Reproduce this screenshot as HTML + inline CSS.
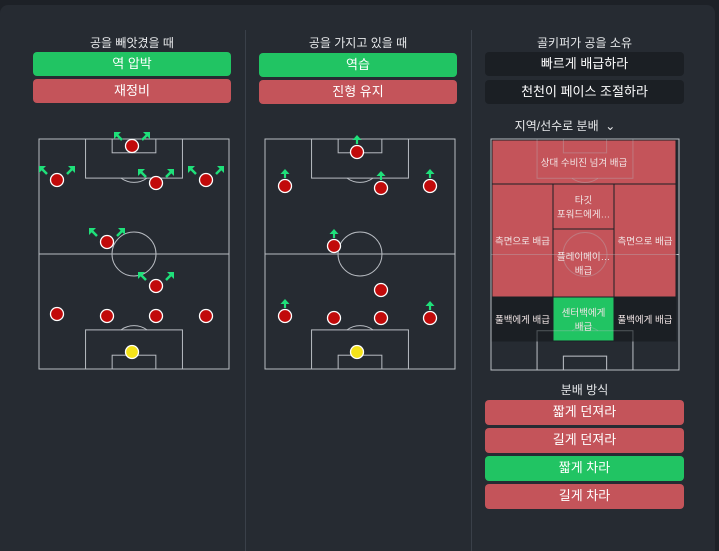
<!DOCTYPE html>
<html style="overflow:hidden;height:551px"><head><meta charset="utf-8">
<style>
body{margin:0;width:719px;height:551px;background:#1d2127;font-family:"Liberation Sans","Noto Sans CJK KR",sans-serif;overflow:hidden;position:relative}
#panel{position:absolute;left:0;top:5px;width:715px;height:546px;background:#262b32;border-radius:8px 8px 0 0}
.h{position:absolute;color:#e6e8ea;font-size:12px;text-align:center}
.b{position:absolute;height:24px;line-height:24px;border-radius:4px;color:#fff;font-size:13px;text-align:center}
.g{background:#21c463}.r{background:#c4545a}.d{background:#1b1f24}
.div{position:absolute;top:30px;width:1px;height:521px;background:#3a4049}
svg{position:absolute;left:0;top:0}
</style></head><body>
<div id="panel"></div>
<div class="div" style="left:245px"></div>
<div class="div" style="left:471px"></div>
<div class="h" style="left:33px;width:198px;top:34px">공을 빼앗겼을 때</div>
<div class="b g" style="left:33px;width:198px;top:52px">역 압박</div>
<div class="b r" style="left:33px;width:198px;top:79px">재정비</div>
<div class="h" style="left:259px;width:198px;top:34px">공을 가지고 있을 때</div>
<div class="b g" style="left:259px;width:198px;top:53px">역습</div>
<div class="b r" style="left:259px;width:198px;top:80px">진형 유지</div>
<div class="h" style="left:485px;width:199px;top:34px">골키퍼가 공을 소유</div>
<div class="b d" style="left:485px;width:199px;top:52px">빠르게 배급하라</div>
<div class="b d" style="left:485px;width:199px;top:80px">천천이 페이스 조절하라</div>
<div class="h" style="left:485px;width:160px;top:117px">지역/선수로 분배 &nbsp;⌄</div>
<div class="h" style="left:485px;width:199px;top:381px">분배 방식</div>
<div class="b r" style="left:485px;width:199px;top:400px;height:25px">짧게 던져라</div>
<div class="b r" style="left:485px;width:199px;top:428px;height:25px">길게 던져라</div>
<div class="b g" style="left:485px;width:199px;top:456px;height:25px">짧게 차라</div>
<div class="b r" style="left:485px;width:199px;top:484px;height:25px">길게 차라</div>
<svg id="s" width="719" height="551" xmlns="http://www.w3.org/2000/svg"></svg>
<script>
const p1x=[132,57,156,206,107,156,57,107,156,206];
const p1y=[146,180,183,180,242,286,314,316,316,316];
const p1arrows=[1,1,1,1,1,1,0,0,0,0];
const p2x=[357,285,381,430,334,381,285,334,381,430];
const p2y=[152,186,188,186,246,290,316,318,318,318];
const p2arrows=[1,1,1,1,1,0,1,0,0,1];
const gk1=[132,352], gk2=[357,352];
const s=document.getElementById('s');
const NS='http://www.w3.org/2000/svg';
function el(t,a){const e=document.createElementNS(NS,t);for(const k in a)e.setAttribute(k,a[k]);s.appendChild(e);return e;}
function pitch(x,y,w,h,name,op){
 const st={fill:'none',stroke:'#b8bcc2','stroke-width':1,'stroke-opacity':op};
 let e=el('rect',Object.assign({x:x,y:y,width:w,height:h},st));
 
 
 el('line',Object.assign({x1:x,y1:y+h/2,x2:x+w,y2:y+h/2},st));
 el('circle',Object.assign({cx:x+w/2,cy:y+h/2,r:22},st));
 const bw=w*0.51,bh=h*0.17,sw=w*0.23,sh=h*0.06;
 el('rect',Object.assign({x:x+(w-bw)/2,y:y,width:bw,height:bh},st));
 el('rect',Object.assign({x:x+(w-sw)/2,y:y,width:sw,height:sh},st));
 el('rect',Object.assign({x:x+(w-bw)/2,y:y+h-bh,width:bw,height:bh},st));
 el('rect',Object.assign({x:x+(w-sw)/2,y:y+h-sh,width:sw,height:sh},st));
 el('path',Object.assign({d:`M${x+w/2-13} ${y+bh} A22 22 0 0 0 ${x+w/2+13} ${y+bh}`},st));
 el('path',Object.assign({d:`M${x+w/2-13} ${y+h-bh} A22 22 0 0 1 ${x+w/2+13} ${y+h-bh}`},st));
}
function player(cx,cy,col){
 const c=el('circle',{cx:cx,cy:cy,r:6.5,fill:col,stroke:'#fff','stroke-width':1.3});
 
 
}
function arrow(x,y,dx){
 const a=el('path',{d:`M${x} ${y} l${dx*5} -5`,stroke:'#1fe07a','stroke-width':2.5,fill:'none'});
 
 
 const h=el('path',{d:`M${x+dx*8} ${y-8} l${-dx*7} 0 l${dx*7} 7 z`,fill:'#1fe07a'});
 
 
}
function up(x,y){
 const a=el('path',{d:`M${x} ${y} l0 -5`,stroke:'#1fe07a','stroke-width':2.2,fill:'none'});
 
 
 const h=el('path',{d:`M${x-4.5} ${y-4} l4.5 -5 l4.5 5 z`,fill:'#1fe07a'});
 
 
}
pitch(39,139,190,230,'pressing-pitch',1);
pitch(265,139,190,230,'possession-pitch',1);
const Z=[[492,140,184,44,'#c4545a','상대 수비진 넘겨 배급','beyond-defense-zone'],
[492,184,61,113,'#c4545a','측면으로 배급','flanks-left-zone'],
[553,184,61,45,'#c4545a','타깃\n포워드에게…','target-forward-zone'],
[553,229,61,68,'#c4545a','플레이메이…\n배급','playmaker-zone'],
[614,184,62,113,'#c4545a','측면으로 배급','flanks-right-zone'],
[492,297,61,44,'#1b1f24','풀백에게 배급','fullback-left-zone'],
[553,297,61,44,'#21c463','센터백에게\n배급','centreback-zone'],
[614,297,62,44,'#1b1f24','풀백에게 배급','fullback-right-zone']];
pitch(491,139,188,231,'distribution-pitch',1);
Z.forEach(z=>{const r=el('rect',{x:z[0],y:z[1],width:z[2],height:z[3],fill:z[4],stroke:'#1b1f24','stroke-width':1});
 });
pitch(491,139,188,231,'distribution-pitch-overlay',0.35);
Z.forEach(z=>{const L=z[5].split('\n');L.forEach((t,i)=>{const tx=el('text',{x:z[0]+z[2]/2,y:z[1]+z[3]/2+4+(i-(L.length-1)/2)*14,'text-anchor':'middle',fill:'#f2e6e6','font-size':9.5,'font-family':'Liberation Sans, Noto Sans CJK KR, sans-serif'});tx.textContent=t;
 });});
p1x.forEach((x,i)=>{if(p1arrows[i]){arrow(x-10,p1y[i]-6,-1);arrow(x+10,p1y[i]-6,1);}player(x,p1y[i],'#c10a0a');});
p2x.forEach((x,i)=>{if(p2arrows[i])up(x,p2y[i]-8);player(x,p2y[i],'#c10a0a');});
player(gk1[0],gk1[1],'#f5e31a');player(gk2[0],gk2[1],'#f5e31a');
</script>
</body></html>
